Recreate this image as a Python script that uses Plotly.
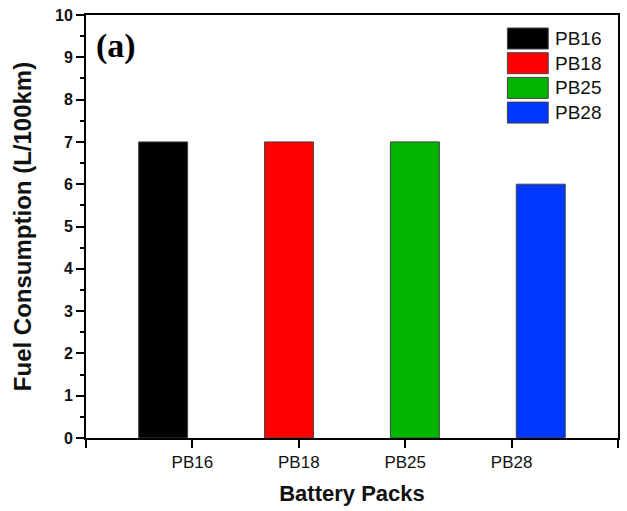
import plotly.graph_objects as go

categories = ["PB16", "PB18", "PB25", "PB28"]
fuel = [7, 7, 7, 6]
colors = ["#000000", "#FF0000", "#00B400", "#0038FF"]

y_ticks = [0, 1, 2, 3, 4, 5, 6, 7, 8, 9, 10]

positions = list(range(1, len(categories) + 1))
bar_width = 0.46
first_offset = -0.505
offset_step = 0.183

fig = go.Figure()
for i, (cat, val, col) in enumerate(zip(categories, fuel, colors)):
    fig.add_trace(go.Bar(
        x=[positions[i]], y=[val], name=cat,
        width=bar_width, offset=first_offset + offset_step * i,
        marker=dict(color=col, line=dict(color="#444444", width=1)),
        showlegend=False,
    ))

# custom legend (large swatches like the original)
leg_x0, leg_x1 = 509, 550
leg_top = 28
leg_pitch = 24.7
leg_h = 21
W, H = 627, 511
ml, mr, mt, mb = 86, 7, 15, 73
pw, ph = W - ml - mr, H - mt - mb
def px2paper_x(px):
    return (px - ml) / pw
def px2paper_y(py):
    return 1 - (py - mt) / ph

shapes = []
annotations = []
for i, (cat, col) in enumerate(zip(categories, colors)):
    top = leg_top + leg_pitch * i
    shapes.append(dict(type="rect", xref="paper", yref="paper",
                       x0=px2paper_x(leg_x0), x1=px2paper_x(leg_x1),
                       y0=px2paper_y(top + leg_h), y1=px2paper_y(top),
                       fillcolor=col, line=dict(color="#444444", width=1)))
    annotations.append(dict(xref="paper", yref="paper",
                            x=px2paper_x(555), y=px2paper_y(top + leg_h / 2),
                            xanchor="left", yanchor="middle", showarrow=False,
                            text=cat, font=dict(family="Arial, Liberation Sans", size=19, color="#111111")))

annotations.append(dict(xref="paper", yref="paper", x=px2paper_x(94), y=px2paper_y(46),
                        xanchor="left", yanchor="middle", showarrow=False,
                        text="<b>(a)</b>",
                        font=dict(family="Times New Roman, Liberation Serif", size=34, color="#000000")))

fig.update_layout(
    width=W, height=H,
    margin=dict(l=ml, r=mr, t=mt, b=mb),
    plot_bgcolor="white", paper_bgcolor="white",
    barmode="overlay",
    shapes=shapes, annotations=annotations,
    xaxis=dict(
        range=[0, 5],
        tickmode="array",
        tickvals=[0] + positions + [len(categories) + 1],
        ticktext=[""] + categories + [""],
        ticks="outside", ticklen=8, tickwidth=2, tickcolor="black",
        showline=True, linecolor="black", linewidth=2, mirror=True,
        showgrid=False, zeroline=False,
        tickfont=dict(family="Arial, Liberation Sans", size=17, color="#111111"),
        title=dict(text="<b>Battery Packs</b>", standoff=14,
                   font=dict(family="Arial, Liberation Sans", size=22, color="#111111")),
    ),
    yaxis=dict(
        range=[0, 10],
        tickmode="array", tickvals=y_ticks, ticktext=[f"<b>{v}</b>" for v in y_ticks],
        ticks="outside", ticklen=8, tickwidth=2, tickcolor="black",
        minor=dict(dtick=0.5, ticks="outside", ticklen=4, tickwidth=2, tickcolor="black", showgrid=False),
        showline=True, linecolor="black", linewidth=2, mirror=True,
        showgrid=False, zeroline=False,
        tickfont=dict(family="Arial, Liberation Sans", size=16, color="#111111"),
        title=dict(text="<b>Fuel Consumption (L/100km)</b>", standoff=17,
                   font=dict(family="Arial, Liberation Sans", size=24, color="#111111")),
    ),
)

fig.write_html("out.html")
